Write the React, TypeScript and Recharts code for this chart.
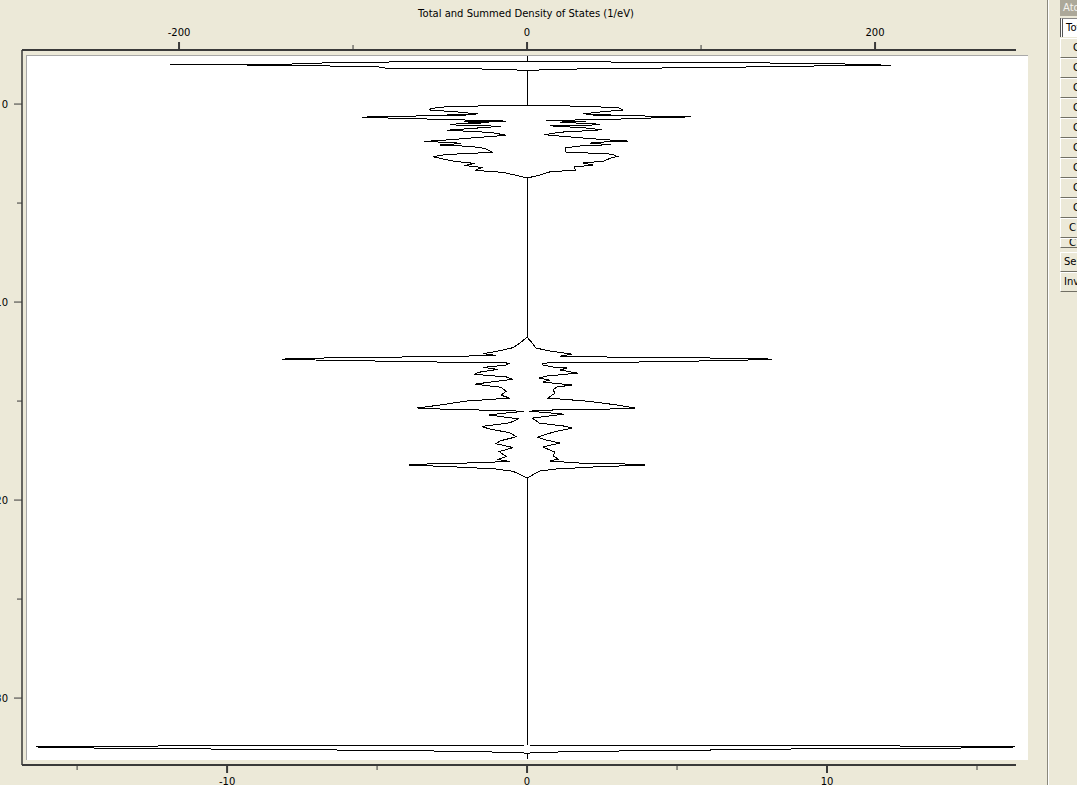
import { ScatterChart, Scatter, XAxis, YAxis } from 'recharts';

// each point is [energy (eV), density of states (1/eV)]
type Pt = [number, number];

const TITLE = 'Total and Summed Density of States (1/eV)';

const DOS_MAJOR = [-200, 0, 200];
const DOS_MINOR = [-100, 100];
const EX_MAJOR = [-10, 0, 10];
const EX_MINOR = [-15, -5, 5, 15];
const ENERGY_MAJOR = [0, -10, -20, -30];
const ENERGY_MINOR = [-5, -15, -25];

const TOP_PEAK_RIGHT: Pt[] = [
  [2.42, 0], [2.17, 0], [2.13, 35], [2.1, 99], [2.05, 174], [2.0, 190], [1.96, 209],
  [1.96, 190], [1.9, 151], [1.84, 99], [1.78, 33], [1.72, 7], [1.67, 0],
];
const TOP_PEAK_LEFT: Pt[] = [
  [2.42, 0], [2.17, 0], [2.13, -34], [2.12, -102], [2.02, -136], [2.0, -184], [1.99, -205],
  [1.99, -175], [1.94, -136], [1.9, -87], [1.8, -80], [1.79, -36], [1.74, -10], [1.69, 0],
];

const VALENCE_RIGHT: Pt[] = [
  [-0.05, 0], [-0.08, 7], [-0.1, 26], [-0.15, 43], [-0.2, 53], [-0.3, 55], [-0.4, 42],
  [-0.5, 32], [-0.52, 48], [-0.55, 36], [-0.6, 65], [-0.64, 94], [-0.69, 83], [-0.72, 60],
  [-0.76, 53], [-0.8, 30], [-0.84, 11], [-0.88, 34], [-0.92, 19], [-1.0, 39], [-1.05, 42],
  [-1.1, 13], [-1.2, 33], [-1.3, 43], [-1.38, 28], [-1.42, 19], [-1.55, 10], [-1.7, 30],
  [-1.8, 45], [-1.87, 58], [-1.93, 40], [-1.98, 36], [-2.05, 48], [-2.12, 30], [-2.22, 22],
  [-2.42, 22], [-2.53, 49], [-2.65, 52], [-2.73, 48], [-2.88, 44], [-2.98, 32], [-3.08, 38],
  [-3.18, 27], [-3.33, 28], [-3.43, 13], [-3.59, 7], [-3.74, 0],
];
const VALENCE_LEFT: Pt[] = [
  [-0.05, 0], [-0.08, -8], [-0.1, -30], [-0.15, -48], [-0.22, -55], [-0.3, -56], [-0.4, -40],
  [-0.5, -28], [-0.53, -46], [-0.56, -35], [-0.61, -68], [-0.66, -95], [-0.7, -82], [-0.74, -62],
  [-0.78, -50], [-0.82, -28], [-0.86, -12], [-0.9, -36], [-0.94, -22], [-1.02, -44], [-1.07, -40],
  [-1.12, -15], [-1.22, -30], [-1.32, -46], [-1.39, -30], [-1.44, -20], [-1.58, -12], [-1.72, -33],
  [-1.82, -47], [-1.89, -59], [-1.95, -42], [-1.99, -38], [-2.07, -50], [-2.14, -32], [-2.24, -24],
  [-2.44, -20], [-2.55, -47], [-2.66, -54], [-2.74, -50], [-2.89, -42], [-3.0, -30], [-3.1, -36],
  [-3.2, -26], [-3.35, -30], [-3.45, -14], [-3.6, -6], [-3.74, 0],
];

const SEMICORE_RIGHT: Pt[] = [
  [-11.77, 0], [-12.07, 3], [-12.32, 5], [-12.47, 13], [-12.63, 26], [-12.73, 19], [-12.78, 49],
  [-12.83, 111], [-12.88, 141], [-12.93, 126], [-12.98, 97], [-13.03, 63], [-13.08, 9],
  [-13.18, 9], [-13.28, 15], [-13.33, 23], [-13.43, 19], [-13.59, 29], [-13.74, 11], [-13.84, 7],
  [-13.94, 13], [-14.04, 9], [-14.19, 26], [-14.29, 17], [-14.44, 15], [-14.6, 16], [-14.85, 12],
  [-15.0, 34], [-15.2, 52], [-15.35, 62], [-15.4, 48], [-15.45, 15], [-15.51, 1], [-15.61, 15],
  [-15.66, 21], [-15.86, 3], [-16.11, 7], [-16.26, 21], [-16.36, 26], [-16.57, 15], [-16.82, 6],
  [-16.97, 11], [-17.12, 19], [-17.32, 9], [-17.58, 16], [-17.78, 15], [-17.93, 18], [-18.03, 13],
  [-18.13, 30], [-18.18, 57], [-18.23, 68], [-18.33, 38], [-18.43, 17], [-18.54, 7], [-18.74, 3],
  [-18.89, 0],
];
const SEMICORE_LEFT: Pt[] = [
  [-11.77, 0], [-12.07, -4], [-12.3, -8], [-12.45, -15], [-12.6, -25], [-12.7, -18], [-12.76, -55],
  [-12.81, -110], [-12.88, -141], [-12.93, -120], [-12.98, -85], [-13.03, -50], [-13.08, -10],
  [-13.18, -12], [-13.3, -25], [-13.4, -17], [-13.55, -28], [-13.65, -30], [-13.78, -12], [-13.9, -8],
  [-14.05, -22], [-14.15, -30], [-14.3, -15], [-14.5, -12], [-14.7, -15], [-14.85, -10], [-15.0, -35],
  [-15.2, -50], [-15.35, -63], [-15.42, -45], [-15.48, -12], [-15.52, -2], [-15.62, -14], [-15.7, -22],
  [-15.9, -5], [-16.1, -10], [-16.28, -26], [-16.4, -22], [-16.6, -10], [-16.8, -6], [-17.0, -15],
  [-17.15, -18], [-17.35, -8], [-17.55, -16], [-17.8, -12], [-17.95, -17], [-18.05, -10],
  [-18.13, -35], [-18.18, -58], [-18.23, -68], [-18.33, -40], [-18.43, -18], [-18.55, -8],
  [-18.75, -3], [-18.89, 0],
];

const CORE_RIGHT: Pt[] = [
  [-32.37, 0], [-32.4, 71], [-32.42, 213], [-32.47, 280.5], [-32.53, 245], [-32.55, 172],
  [-32.63, 99], [-32.68, 46], [-32.73, 14], [-32.78, 0], [-33.08, 0],
];
const CORE_LEFT: Pt[] = [
  [-32.37, 0], [-32.4, -71], [-32.42, -211], [-32.47, -282], [-32.53, -244], [-32.55, -211],
  [-32.58, -171], [-32.63, -99], [-32.68, -47], [-32.73, -16], [-32.78, 0], [-33.08, 0],
];

// lower axis (eV) has no curve of its own; its end ticks anchor it
const EX_ANCHORS = [{ ex: -10, energy: -33 }, { ex: 10, energy: -33 }];

const PANEL_ROWS = ['C 1', 'C 2', 'C 3', 'C 4', 'C 5', 'C 6', 'C 7', 'C 8', 'C 9', 'C 10'];

const toRows = (parts: Pt[][]) =>
  parts.flat().map(([energy, dos]) => ({ energy, dos }));

const rightCurve = toRows([TOP_PEAK_RIGHT, VALENCE_RIGHT, SEMICORE_RIGHT, CORE_RIGHT]);
const leftCurve = toRows([TOP_PEAK_LEFT, VALENCE_LEFT, SEMICORE_LEFT, CORE_LEFT]);

const FONT = '"DejaVu Sans", Verdana, sans-serif';
const FS = 10;
const AXIS = '#3a3a3a';
const BEIGE = '#ECE9D8';

const sorted = (a: number[], b: number[]) => [...a, ...b].sort((p, q) => p - q);

function TopTick(props: any) {
  const { x, y, payload } = props;
  const major = DOS_MAJOR.includes(payload.value);
  return (
    <g>
      <line x1={x} x2={x} y1={y} y2={y - (major ? 8 : 5)} stroke={AXIS} strokeWidth={major ? 2 : 1} />
      {major && (
        <text x={x} y={y - 14} textAnchor="middle" fontSize={FS} fontFamily={FONT} fill="#000">
          {payload.value}
        </text>
      )}
    </g>
  );
}

function BottomTick(props: any) {
  const { x, y, payload } = props;
  const major = EX_MAJOR.includes(payload.value);
  return (
    <g>
      <line x1={x} x2={x} y1={y} y2={y + (major ? 8 : 5)} stroke={AXIS} strokeWidth={major ? 2 : 1} />
      {major && (
        <text x={x} y={y + 20} textAnchor="middle" fontSize={FS} fontFamily={FONT} fill="#000">
          {payload.value}
        </text>
      )}
    </g>
  );
}

function LeftTick(props: any) {
  const { x, y, payload } = props;
  const major = ENERGY_MAJOR.includes(payload.value);
  return (
    <g>
      <line x1={x} x2={x - (major ? 8 : 5)} y1={y} y2={y} stroke={AXIS} strokeWidth={1} />
      {major && (
        <text x={x - 14} y={y + 4} textAnchor="end" fontSize={FS} fontFamily={FONT} fill="#000">
          {payload.value}
        </text>
      )}
    </g>
  );
}

function Title(props: any) {
  const vb = props.viewBox ?? { x: 22, y: 0, width: 994, height: 50 };
  return (
    <text x={vb.x + (vb.width + 14) / 2} y={vb.y + 17} textAnchor="middle" fontSize={FS} fontFamily={FONT} fill="#000">
      {TITLE}
    </text>
  );
}

const noDot = () => <g />;

function SidePanel() {
  const btn = (top: number, h: number, indent: number): React.CSSProperties => ({
    position: 'absolute', left: 1060, top, width: 30, height: h, boxSizing: 'border-box',
    background: BEIGE, borderTop: '1px solid #fff', borderLeft: '1px solid #fff',
    borderBottom: '1px solid #716F64', paddingLeft: indent, fontSize: FS, lineHeight: `${h - 2}px`,
    color: '#000', whiteSpace: 'nowrap', overflow: 'hidden',
  });
  return (
    <>
      <div style={{ position: 'absolute', left: 1047, top: 0, width: 1, height: 785, background: '#8a887c' }} />
      <div style={{ position: 'absolute', left: 1048, top: 0, width: 1, height: 785, background: '#fff' }} />
      <div style={{ position: 'absolute', left: 1060, top: 0, width: 30, height: 16, background: '#ACA899', color: '#f4f3ee', fontSize: FS, lineHeight: '16px', paddingLeft: 3, whiteSpace: 'nowrap' }}>Atoms</div>
      <div style={{ position: 'absolute', left: 1060, top: 18, width: 30, height: 19, boxSizing: 'border-box', background: '#fff', borderLeft: '3px double #555', borderTop: '1px solid #888', paddingLeft: 3, fontSize: FS, lineHeight: '17px', whiteSpace: 'nowrap' }}>Total</div>
      {PANEL_ROWS.map((name, i) => (
        <div key={name} style={btn(38 + i * 20, 20, i === 9 ? 8 : 12)}>{name}</div>
      ))}
      <div style={btn(238, 10, 8)}>C 11</div>
      <div style={btn(252, 20, 3)}>Select</div>
      <div style={btn(272, 20, 3)}>Invert</div>
    </>
  );
}

const curveLine = { stroke: '#000', strokeWidth: 1, shapeRendering: 'crispEdges' };

export default function App() {
  return (
    <div style={{ position: 'absolute', left: 0, top: 0, width: 1077, height: 785, overflow: 'hidden', background: BEIGE, fontFamily: FONT }}>
      <div style={{ position: 'absolute', left: 26, top: 55, width: 1002, height: 705, background: '#fff', borderTop: '1px solid #a8a8a8', borderLeft: '1px solid #a8a8a8', boxSizing: 'border-box' }} />
      <div style={{ position: 'absolute', left: 0, top: 0 }}>
        <ScatterChart width={1077} height={785} margin={{ top: 0, right: 61, bottom: 0, left: 0 }}>
          <XAxis
            xAxisId="dos"
            orientation="top"
            type="number"
            dataKey="dos"
            domain={[-282.2, 281]}
            allowDataOverflow
            padding={{ left: 14, right: 0 }}
            height={50}
            ticks={sorted(DOS_MAJOR, DOS_MINOR)}
            interval={0}
            tickSize={0}
            tickMargin={0}
            tickLine={false}
            tick={<TopTick />}
            axisLine={{ stroke: AXIS, strokeWidth: 2 }}
            label={{ content: Title }}
          />
          <XAxis
            xAxisId="ex"
            orientation="bottom"
            type="number"
            dataKey="ex"
            domain={[-16.37, 16.3]}
            allowDataOverflow
            padding={{ left: 14, right: 0 }}
            height={20}
            ticks={sorted(EX_MAJOR, EX_MINOR)}
            interval={0}
            tickSize={0}
            tickMargin={0}
            tickLine={false}
            tick={<BottomTick />}
            axisLine={{ stroke: AXIS, strokeWidth: 2 }}
          />
          <YAxis
            type="number"
            dataKey="energy"
            domain={[-33.38, 2.73]}
            allowDataOverflow
            width={22}
            ticks={sorted(ENERGY_MAJOR, ENERGY_MINOR)}
            interval={0}
            tickSize={0}
            tickMargin={0}
            tickLine={false}
            tick={<LeftTick />}
            axisLine={{ stroke: AXIS, strokeWidth: 1.5 }}
          />
          <Scatter
            xAxisId="ex"
            data={EX_ANCHORS}
            shape={noDot}
            legendType="none"
            isAnimationActive={false}
          />
          <Scatter
            name="Total"
            xAxisId="dos"
            data={rightCurve}
            line={curveLine}
            lineType="joint"
            shape={noDot}
            isAnimationActive={false}
          />
          <Scatter
            name="Summed"
            xAxisId="dos"
            data={leftCurve}
            line={curveLine}
            lineType="joint"
            shape={noDot}
            isAnimationActive={false}
          />
        </ScatterChart>
      </div>
      <SidePanel />
    </div>
  );
}
